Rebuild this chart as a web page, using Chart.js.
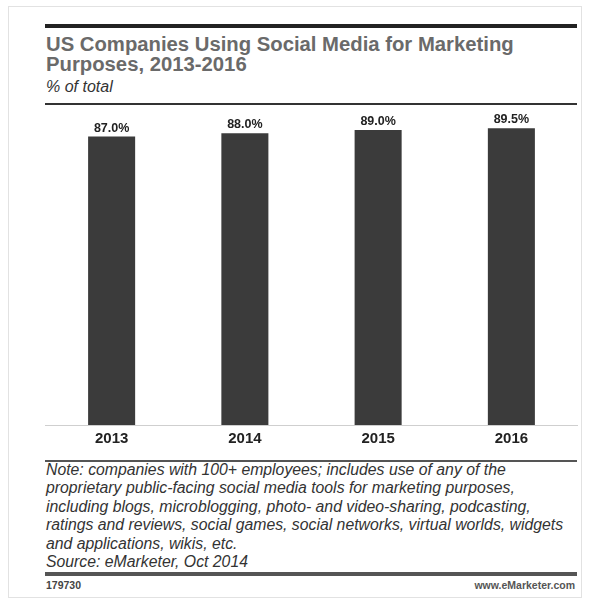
<!DOCTYPE html>
<html>
<head>
<meta charset="utf-8">
<script src="https://cdn.jsdelivr.net/npm/chart.js@4/dist/chart.umd.min.js"></script>
<style>
  html, body { margin: 0; padding: 0; background: #fff; }
  body { width: 589px; height: 601px; position: relative; overflow: hidden; font-family: "Liberation Sans", Arial, sans-serif; }
  .frame { position: absolute; left: 8px; top: 6px; width: 574px; height: 592px; border: 1px solid #e2e2e2; box-sizing: border-box; }
  .rule { position: absolute; left: 45px; width: 532px; }
  .title { position: absolute; left: 46px; top: 34px; font-weight: bold; font-size: 20.3px; line-height: 20px; color: #6a6a6a; white-space: nowrap; }
  .subtitle { position: absolute; left: 46px; top: 78px; font-style: italic; font-size: 16px; color: #333; }
  .note { position: absolute; left: 46px; top: 461px; font-style: italic; font-size: 15.8px; line-height: 18.4px; color: #333; white-space: nowrap; }
  .id { position: absolute; left: 46px; top: 579px; font-size: 10.5px; font-weight: bold; color: #444; }
  .url { position: absolute; right: 14px; top: 579px; font-size: 10.5px; font-weight: bold; color: #555; }
  #wrap { position: absolute; left: 45px; top: 110px; width: 533px; height: 345px; }
</style>
</head>
<body>
<div class="frame"></div>
<div class="rule" style="top:24px;height:4px;background:#222;"></div>
<div class="title">US Companies Using Social Media for Marketing<br>Purposes, 2013-2016</div>
<div class="subtitle">% of total</div>
<div class="rule" style="top:103px;height:2px;background:#333;"></div>
<div id="wrap"><canvas id="c" width="533" height="345"></canvas></div>
<div class="rule" style="top:460px;height:2px;background:#555;"></div>
<div class="note">Note: companies with 100+ employees; includes use of any of the<br>proprietary public-facing social media tools for marketing purposes,<br>including blogs, microblogging, photo- and video-sharing, podcasting,<br>ratings and reviews, social games, social networks, virtual worlds, widgets<br>and applications, wikis, etc.<br>Source: eMarketer, Oct 2014</div>
<div class="rule" style="top:572px;height:4px;background:#555;"></div>
<div class="id">179730</div>
<div class="url">www.eMarketer.com</div>
<script>
const categories = ["2013", "2014", "2015", "2016"];
const values = [87.0, 88.0, 89.0, 89.5];
const valueLabels = ["87.0%", "88.0%", "89.0%", "89.5%"];

const labelPlugin = {
  id: 'barLabels',
  afterDatasetsDraw(chart) {
    const ctx = chart.ctx;
    const meta = chart.getDatasetMeta(0);
    ctx.save();
    ctx.font = 'bold 12.5px "Liberation Sans", Arial, sans-serif';
    ctx.fillStyle = '#222';
    ctx.textAlign = 'center';
    ctx.textBaseline = 'bottom';
    meta.data.forEach((bar, i) => {
      ctx.fillText(valueLabels[i], bar.x, bar.y - 2);
    });
    ctx.restore();
  }
};

new Chart(document.getElementById('c'), {
  type: 'bar',
  data: {
    labels: categories,
    datasets: [{
      data: values,
      backgroundColor: '#3b3b3b',
      borderWidth: 0,
      barPercentage: 0.353,
      categoryPercentage: 1.0
    }]
  },
  options: {
    responsive: false,
    animation: false,
    layout: { padding: 0 },
    plugins: { legend: { display: false }, tooltip: { enabled: false }, title: { display: false } },
    scales: {
      x: {
        grid: { display: false, drawTicks: false },
        border: { display: true, color: '#cfcfcf', width: 1 },
        ticks: { color: '#222', font: { family: '"Liberation Sans", Arial, sans-serif', size: 15, weight: 'bold' }, padding: 5 },
        afterFit(scale) { scale.height = 30; }
      },
      y: {
        display: false,
        min: 0,
        max: 95
      }
    }
  },
  plugins: [labelPlugin]
});
</script>
</body>
</html>
